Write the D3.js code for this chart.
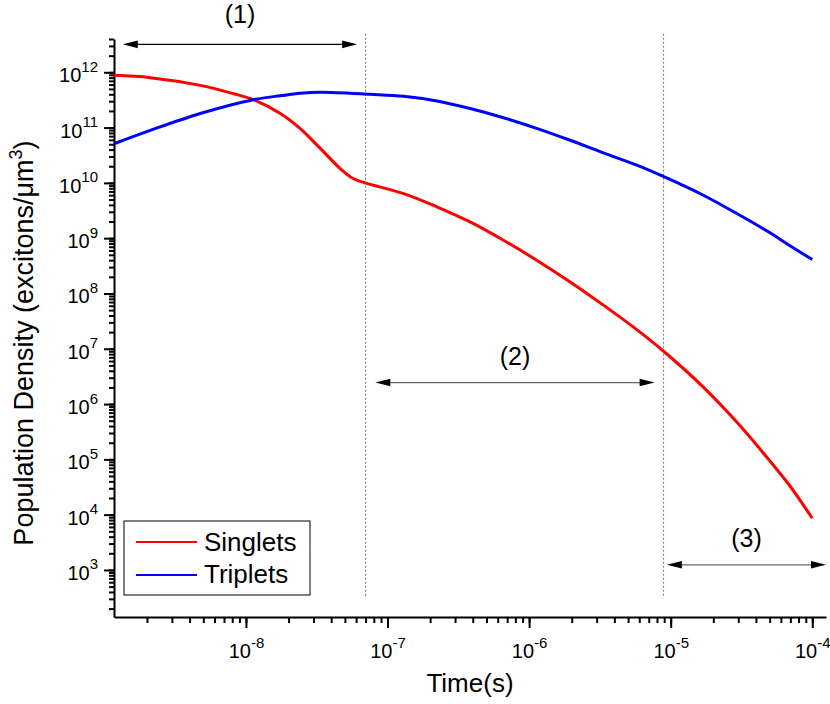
<!DOCTYPE html>
<html>
<head>
  <meta charset="UTF-8">
  <style>
    body { margin: 0; padding: 0; background: #fff; }
    svg { display: block; font-family: Arial, "Liberation Sans", sans-serif; }
  </style>
</head>
<body>
  <svg></svg>
  <script src="https://d3js.org/d3.v7.min.js"></script>
  <script>
  const width = 830, height = 704;
  const margin = {top: 39, right: 4, bottom: 87, left: 114};

  // singlet population
  const singletTimes = [1.17e-9, 2.11e-9, 4.76e-9, 8.18e-9, 1.13e-8, 1.75e-8, 2.42e-8, 3.35e-8, 4.63e-8, 5.72e-8,
                        6.95e-8, 1.3e-7, 2.23e-7, 3.83e-7, 6.59e-7, 1.13e-6, 1.95e-6, 3.35e-6, 5.76e-6, 8.79e-6,
                        1.7e-5, 2.93e-5, 5.03e-5, 6.96e-5, 1e-4];
  const singlets = [8.8e11, 8.0e11, 5.8e11, 4.1e11, 3.2e11, 1.8e11, 9.6e10, 4.2e10, 1.82e10, 1.2e10,
                    1.0e10, 6.4e9, 3.7e9, 1.97e9, 9.2e8, 4.0e8, 1.62e8, 6.15e7, 2.22e7, 9.3e6,
                    2.03e6, 4.72e5, 9.3e4, 3.3e4, 8.6e3];

  // triplet population
  const tripletTimes = [1.17e-9, 2.11e-9, 4.76e-9, 1.13e-8, 1.75e-8, 2.42e-8, 3.35e-8, 7.54e-8, 1.3e-7, 2.23e-7,
                        3.83e-7, 6.59e-7, 1.13e-6, 1.95e-6, 3.35e-6, 5.76e-6, 8.79e-6, 1.7e-5, 2.93e-5, 5.03e-5,
                        6.96e-5, 1e-4];
  const triplets = [5.1e10, 8.9e10, 1.8e11, 3.2e11, 3.76e11, 4.17e11, 4.36e11, 4.0e11, 3.68e11, 3.03e11,
                    2.21e11, 1.51e11, 9.7e10, 5.9e10, 3.48e10, 2.09e10, 1.32e10, 5.98e9, 2.79e9, 1.25e9,
                    7.3e8, 4.1e8];

  const xMajor = [1e-8, 1e-7, 1e-6, 1e-5, 1e-4];
  const xExponents = ["-8", "-7", "-6", "-5", "-4"];
  const yMajor = [1e3, 1e4, 1e5, 1e6, 1e7, 1e8, 1e9, 1e10, 1e11, 1e12];
  const yExponents = ["3", "4", "5", "6", "7", "8", "9", "10", "11", "12"];

  const regionBounds = [7e-8, 8.9e-6];
  const regionLabels = ["(1)", "(2)", "(3)"];
  const arrowStart = [1.35e-9, 8.2e-8, 9.4e-6];
  const arrowEnd = [6.1e-8, 7.7e-6, 1.25e-4];
  const arrowLevel = [3.2e12, 2.45e6, 1.24e3];

  const seriesNames = ["Singlets", "Triplets"];
  const seriesColors = ["#ff0000", "#0000ff"];

  const svg = d3.select("svg").attr("width", width).attr("height", height);

  const x = d3.scaleLog()
      .domain([1.17e-9, 1.25e-4])
      .range([margin.left, width - margin.right]);
  const y = d3.scaleLog()
      .domain([1.41e2, 4e12])
      .range([height - margin.bottom, margin.top]);

  const xAxisY = height - margin.bottom;

  // minor ticks
  svg.append("g")
      .attr("transform", `translate(0,${xAxisY})`)
      .call(d3.axisBottom(x).tickValues(x.ticks()).tickSize(6).tickSizeOuter(0).tickFormat(""))
      .call(g => g.select(".domain").remove())
      .selectAll("line").attr("stroke-width", 2);
  svg.append("g")
      .attr("transform", `translate(${margin.left},0)`)
      .call(d3.axisLeft(y).tickValues(y.ticks(20)).tickSize(5).tickSizeOuter(0).tickFormat(""))
      .call(g => g.select(".domain").remove())
      .selectAll("line").attr("stroke-width", 2);

  // major ticks + axis lines
  const xAxis = svg.append("g")
      .attr("transform", `translate(0,${xAxisY})`)
      .call(d3.axisBottom(x).tickValues(xMajor).tickSize(11).tickSizeOuter(0).tickFormat(""));
  xAxis.select(".domain").attr("stroke-width", 2);
  xAxis.selectAll("line").attr("stroke-width", 2);
  xAxis.selectAll(".tick").each(function(d, i) {
    const t = d3.select(this).append("text")
        .attr("fill", "#000").attr("y", 41).attr("text-anchor", "middle")
        .style("font-size", "20px");
    t.append("tspan").text("10");
    t.append("tspan").attr("dy", -10).style("font-size", "15px").text(xExponents[i]);
  });

  const yAxis = svg.append("g")
      .attr("transform", `translate(${margin.left},0)`)
      .call(d3.axisLeft(y).tickValues(yMajor).tickSize(10).tickSizeOuter(0).tickFormat(""));
  yAxis.select(".domain").attr("stroke-width", 2);
  yAxis.selectAll("line").attr("stroke-width", 2);
  yAxis.selectAll(".tick").each(function(d, i) {
    const t = d3.select(this).append("text")
        .attr("fill", "#000").attr("x", -16).attr("y", 9.5).attr("text-anchor", "end")
        .style("font-size", "20px");
    t.append("tspan").text("10");
    t.append("tspan").attr("dy", -10.5).style("font-size", "15px").text(yExponents[i]);
  });

  // axis titles
  svg.append("text")
      .attr("x", (margin.left + width - margin.right) / 2)
      .attr("y", 692)
      .attr("text-anchor", "middle")
      .style("font-size", "26px")
      .text("Time(s)");

  const yTitle = svg.append("text")
      .attr("transform", "translate(33,343) rotate(-90)")
      .attr("text-anchor", "middle")
      .style("font-size", "27px");
  yTitle.append("tspan").text("Population Density (excitons/\u03bcm");
  yTitle.append("tspan").attr("dy", -11).style("font-size", "18px").text("3");
  yTitle.append("tspan").attr("dy", 11).text(")");

  // dotted boundaries
  svg.selectAll(".bound")
      .data(regionBounds)
      .enter()
      .append("line")
      .attr("x1", d => x(d)).attr("x2", d => x(d))
      .attr("y1", y(5e12)).attr("y2", y(3.1e2))
      .attr("stroke", "#808080")
      .attr("stroke-width", 1.1)
      .attr("stroke-dasharray", "2,2");

  // curves
  const line = d3.line()
      .x(d => x(d[0]))
      .y(d => y(d[1]))
      .curve(d3.curveCatmullRom.alpha(0.5));

  const series = [
    d3.zip(singletTimes, singlets),
    d3.zip(tripletTimes, triplets)
  ];

  svg.selectAll(".curve")
      .data(series)
      .enter()
      .append("path")
      .attr("d", line)
      .attr("fill", "none")
      .attr("stroke", (d, i) => seriesColors[i])
      .attr("stroke-width", 3);

  // region arrows
  const head = 15, half = 3.8;
  regionLabels.forEach((lab, i) => {
    const x0 = x(arrowStart[i]), x1 = x(arrowEnd[i]), ay = y(arrowLevel[i]);
    const g = svg.append("g");
    g.append("line")
        .attr("x1", x0 + head - 2).attr("x2", x1 - head + 2)
        .attr("y1", ay).attr("y2", ay)
        .attr("stroke", i === 0 ? "#000" : "#666")
        .attr("stroke-width", 1.2);
    g.append("path")
        .attr("d", `M${x0},${ay} L${x0 + head},${ay - half} L${x0 + head},${ay + half} Z`)
        .attr("fill", "#000");
    g.append("path")
        .attr("d", `M${x1},${ay} L${x1 - head},${ay - half} L${x1 - head},${ay + half} Z`)
        .attr("fill", "#000");
    g.append("text")
        .attr("x", (x0 + x1) / 2)
        .attr("y", ay - (i === 0 ? 21.5 : 18))
        .attr("text-anchor", "middle")
        .style("font-size", "25px")
        .text(lab);
  });

  // legend
  const legend = svg.append("g").attr("transform", "translate(124,521)");
  legend.append("rect")
      .attr("width", 186).attr("height", 74)
      .attr("fill", "#fff").attr("stroke", "#000").attr("stroke-width", 1);
  seriesNames.forEach((name, i) => {
    legend.append("line")
        .attr("x1", 12).attr("x2", 73)
        .attr("y1", 21 + i * 33).attr("y2", 21 + i * 33)
        .attr("stroke", seriesColors[i]).attr("stroke-width", 2.2);
    legend.append("text")
        .attr("x", 80).attr("y", 30 + i * 32)
        .style("font-size", "26px")
        .text(name);
  });
  </script>
</body>
</html>
